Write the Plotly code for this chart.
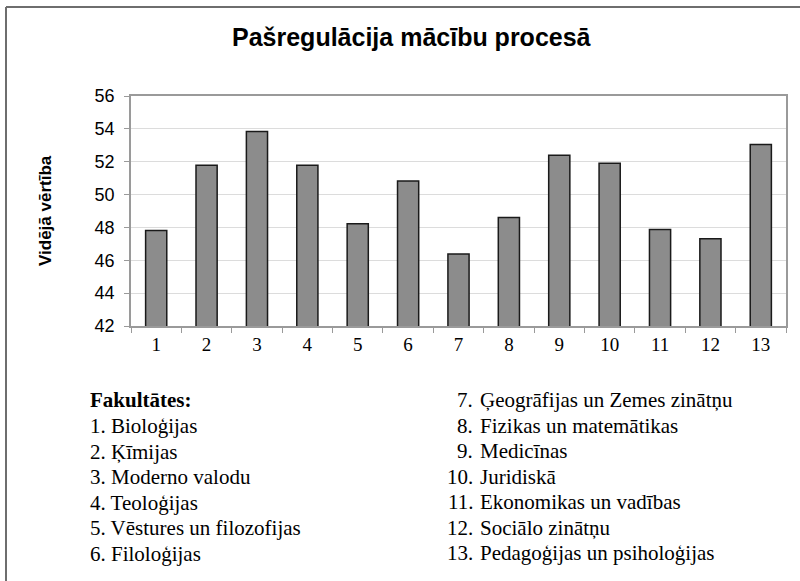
import plotly.graph_objects as go

categories = [str(i) for i in range(1, 14)]
values = [47.81, 51.78, 53.84, 51.78, 48.23, 50.82, 46.38, 48.6, 52.4, 51.91, 47.88, 47.31, 53.05]
faculties = [
    "Bioloģijas", "Ķīmijas", "Moderno valodu", "Teoloģijas",
    "Vēstures un filozofijas", "Filoloģijas", "Ģeogrāfijas un Zemes zinātņu",
    "Fizikas un matemātikas", "Medicīnas", "Juridiskā",
    "Ekonomikas un vadības", "Sociālo zinātņu", "Pedagoģijas un psiholoģijas",
]
title_text = "Pašregulācija mācību procesā"
y_title = "Vidējā vērtība"
legend_header = "Fakultātes:"

W, H = 800, 581
L, R, T, B = 131, 786, 96, 326


def px(x):
    return (x - L) / (R - L)


def py(y):
    return (B - y) / (B - T)


fig = go.Figure()
fig.add_trace(go.Bar(
    x=categories, y=values,
    marker=dict(color="#8c8c8c", line=dict(color="#1a1a1a", width=1.5)),
    hoverinfo="x+y",
))

serif = "Liberation Serif, Times New Roman, serif"
sans = "Liberation Sans, Arial, sans-serif"
LEG = 21

annotations = [
    dict(text="<b>" + title_text + "</b>", x=px(412), y=py(37), xref="paper", yref="paper",
         showarrow=False, xanchor="center", yanchor="middle",
         font=dict(family=sans, size=25, color="black")),
    dict(text="<b>" + y_title + "</b>", x=px(45), y=py(211), xref="paper", yref="paper",
         showarrow=False, xanchor="center", yanchor="middle", textangle=-90,
         font=dict(family=sans, size=17, color="black")),
    dict(text="<b>" + legend_header + "</b>", x=px(88), y=py(400), xref="paper", yref="paper",
         showarrow=False, xanchor="left", yanchor="middle",
         font=dict(family=serif, size=LEG, color="black")),
]

row_h = 25.5
for i, name in enumerate(faculties):
    if i < 6:
        yrow = 426 + i * row_h
        annotations.append(dict(text=f"{i + 1}. {name}", x=px(88), y=py(yrow), xref="paper", yref="paper",
                                showarrow=False, xanchor="left", yanchor="middle",
                                font=dict(family=serif, size=LEG, color="black")))
    else:
        yrow = 400 + (i - 6) * row_h
        annotations.append(dict(text=f"{i + 1}.", x=px(475), y=py(yrow), xref="paper", yref="paper",
                                showarrow=False, xanchor="right", yanchor="middle",
                                font=dict(family=serif, size=LEG, color="black")))
        annotations.append(dict(text=name, x=px(478), y=py(yrow), xref="paper", yref="paper",
                                showarrow=False, xanchor="left", yanchor="middle",
                                font=dict(family=serif, size=LEG, color="black")))

shapes = [
    dict(type="line", xref="paper", yref="paper", x0=px(6), x1=px(800), y0=py(7), y1=py(7),
         line=dict(color="#6e6e6e", width=2)),
    dict(type="line", xref="paper", yref="paper", x0=px(6), x1=px(6), y0=py(7), y1=py(581),
         line=dict(color="#6e6e6e", width=2)),
]

fig.update_layout(
    width=W, height=H,
    margin=dict(l=L, r=W - R, t=T, b=H - B),
    paper_bgcolor="white", plot_bgcolor="white",
    showlegend=False,
    bargap=0.58,
    annotations=annotations,
    shapes=shapes,
    xaxis=dict(
        type="category", tickson="boundaries", ticks="outside", ticklen=5,
        tickcolor="#9a9a9a", showline=True, linecolor="#9a9a9a", linewidth=1.5, mirror=True,
        showgrid=False, tickfont=dict(family=serif, size=19, color="black"),
    ),
    yaxis=dict(
        range=[42, 56], dtick=2, ticks="outside", ticklen=5, tickcolor="#9a9a9a",
        showline=True, linecolor="#9a9a9a", linewidth=1.5, mirror=True,
        showgrid=True, gridcolor="#dcdcdc", gridwidth=1,
        tickfont=dict(family=sans, size=18, color="black"), ticklabelstandoff=6,
        zeroline=False,
    ),
)

fig.write_html("out.html", config={"displayModeBar": False},
               post_script="document.body.style.margin='0px';")
